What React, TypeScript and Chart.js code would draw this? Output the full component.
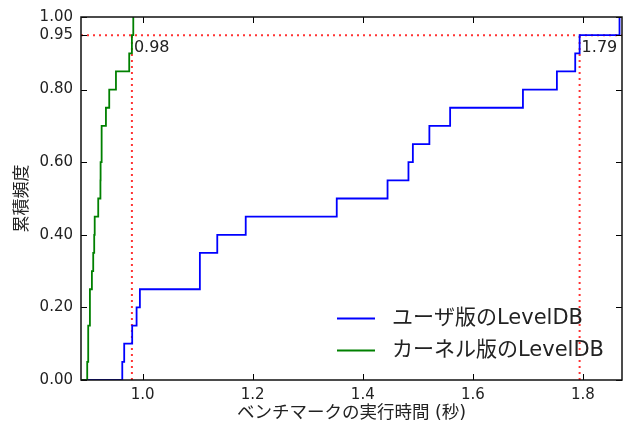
import React, { useEffect, useRef } from "react";
import { Chart, registerables } from "chart.js";

Chart.register(...registerables);

// Benchmark run times (seconds), 20 runs each
const userTimes = [
  0.963, 0.9665, 0.981, 0.989, 0.995, 1.104, 1.104, 1.1356, 1.1873, 1.3527,
  1.445, 1.483, 1.491, 1.521, 1.5587, 1.691, 1.7527, 1.786, 1.794, 1.8665,
];
const kernelTimes = [
  0.8993, 0.9011, 0.9011, 0.9042, 0.9042, 0.9078, 0.9102, 0.912, 0.9129, 0.9193,
  0.9233, 0.9236, 0.9255, 0.9255, 0.9333, 0.9393, 0.9515, 0.9756, 0.9805, 0.983,
];
const seriesLabels = ["ユーザ版のLevelDB", "カーネル版のLevelDB"];
const xTicks = [1.0, 1.2, 1.4, 1.6, 1.8];
const yTicks = [0, 0.2, 0.4, 0.6, 0.8, 0.95, 1.0];
const percentileLevel = 0.95;
const percentileValues = [0.9805, 1.794];
const percentileLabels = ["0.98", "1.79"];
const xRange = [0.888, 1.871];
const xTitle = "ベンチマークの実行時間 (秒)";
const yTitle = "累積頻度";

const FONT = '"DejaVu Sans", "Noto Sans CJK JP", sans-serif';

function cdf(values: number[]) {
  const s = [...values].sort((a, b) => a - b);
  const pts = [{ x: xRange[0], y: 0 }];
  s.forEach((v, i) => pts.push({ x: v, y: (i + 1) / s.length }));
  return pts;
}

const framePlugin = {
  id: "frameTicks",
  afterDatasetsDraw(chart: any) {
    const { ctx, chartArea, scales } = chart;
    const { left, right, top, bottom } = chartArea;
    ctx.save();
    ctx.strokeStyle = "#000";
    ctx.lineWidth = 1;
    const L = 6;
    xTicks.forEach((v) => {
      const x = Math.round(scales.x.getPixelForValue(v)) + 0.5;
      ctx.beginPath();
      ctx.moveTo(x, bottom);
      ctx.lineTo(x, bottom - L);
      ctx.moveTo(x, top);
      ctx.lineTo(x, top + L);
      ctx.stroke();
    });
    yTicks.forEach((v) => {
      const y = Math.round(scales.y.getPixelForValue(v)) + 0.5;
      ctx.beginPath();
      ctx.moveTo(left, y);
      ctx.lineTo(left + L, y);
      ctx.moveTo(right, y);
      ctx.lineTo(right - L, y);
      ctx.stroke();
    });
    ctx.lineWidth = 1.5;
    ctx.strokeStyle = "#111";
    ctx.strokeRect(left, top, right - left, bottom - top);

    // percentile annotations
    ctx.fillStyle = "#222";
    ctx.font = `16px ${FONT}`;
    ctx.textAlign = "left";
    ctx.textBaseline = "middle";
    const ly = scales.y.getPixelForValue(percentileLevel) + 13;
    percentileValues.forEach((v, i) => {
      ctx.fillText(percentileLabels[i], scales.x.getPixelForValue(v) + 2, ly);
    });

    // legend
    const colors = ["#0000ff", "#008000"];
    const rows = [318, 350];
    ctx.font = `21px ${FONT}`;
    seriesLabels.forEach((lab, i) => {
      ctx.strokeStyle = colors[i];
      ctx.lineWidth = 1.8;
      ctx.beginPath();
      ctx.moveTo(337, rows[i] + 0.5);
      ctx.lineTo(375, rows[i] + 0.5);
      ctx.stroke();
      ctx.fillStyle = "#222";
      ctx.fillText(lab, 392, rows[i] + 1);
    });
    ctx.restore();
  },
};

export default function App() {
  const ref = useRef<HTMLCanvasElement | null>(null);
  useEffect(() => {
    if (!ref.current) return;
    const red = "rgba(255,0,0,0.8)";
    const chart = new Chart(ref.current, {
      type: "scatter",
      data: {
        datasets: [
          {
            label: seriesLabels[0],
            data: cdf(userTimes),
            showLine: true,
            stepped: "before",
            borderColor: "#0000ff",
            borderWidth: 1.8,
            pointRadius: 0,
            order: 1,
          },
          {
            label: seriesLabels[1],
            data: cdf(kernelTimes),
            showLine: true,
            stepped: "before",
            borderColor: "#008000",
            borderWidth: 1.8,
            pointRadius: 0,
            order: 0,
          },
          {
            label: "p95",
            data: [
              { x: xRange[0], y: percentileLevel },
              { x: xRange[1], y: percentileLevel },
            ],
            showLine: true,
            borderColor: red,
            borderWidth: 2,
            borderDash: [2, 4],
            pointRadius: 0,
            order: 5,
          },
          ...percentileValues.map((v) => ({
            label: "p95x",
            data: [
              { x: v, y: 0 },
              { x: v, y: percentileLevel },
            ],
            showLine: true,
            borderColor: red,
            borderWidth: 2,
            borderDash: [2, 4],
            pointRadius: 0,
            order: 5,
          })),
        ],
      },
      options: {
        animation: false,
        responsive: false,
        devicePixelRatio: 1,
        layout: { padding: { top: 16, right: 3, left: 0, bottom: 0 } },
        plugins: { legend: { display: false }, tooltip: { enabled: false } },
        scales: {
          x: {
            type: "linear",
            min: xRange[0],
            max: xRange[1],
            grid: { display: false, drawTicks: false },
            border: { display: false },
            afterBuildTicks: (s: any) => {
              s.ticks = xTicks.map((v) => ({ value: v }));
            },
            afterFit: (s: any) => {
              s.height = 55;
            },
            ticks: {
              padding: 6,
              color: "#222",
              font: { family: FONT, size: 15 },
              callback: (v: any) => Number(v).toFixed(1),
            },
            title: {
              display: true,
              text: xTitle,
              color: "#222",
              font: { family: FONT, size: 17.5 },
              padding: { top: 0, bottom: 11 },
            },
          },
          y: {
            type: "linear",
            min: 0,
            max: 1,
            grid: { display: false, drawTicks: false },
            border: { display: false },
            afterBuildTicks: (s: any) => {
              s.ticks = yTicks.map((v) => ({ value: v }));
            },
            afterFit: (s: any) => {
              s.width = 81;
            },
            ticks: {
              padding: 8,
              color: "#222",
              font: { family: FONT, size: 15 },
              callback: (v: any) => Number(v).toFixed(2),
            },
            title: {
              display: true,
              text: yTitle,
              color: "#222",
              font: { family: FONT, size: 17 },
              padding: { top: 12, bottom: 0 },
            },
          },
        },
      },
      plugins: [framePlugin],
    } as any);
    return () => chart.destroy();
  }, []);
  return (
    <div style={{ position: "absolute", left: 0, top: 0, width: 625, height: 435, background: "#fff" }}>
      <canvas ref={ref} width={625} height={435} style={{ display: "block" }} />
    </div>
  );
}
